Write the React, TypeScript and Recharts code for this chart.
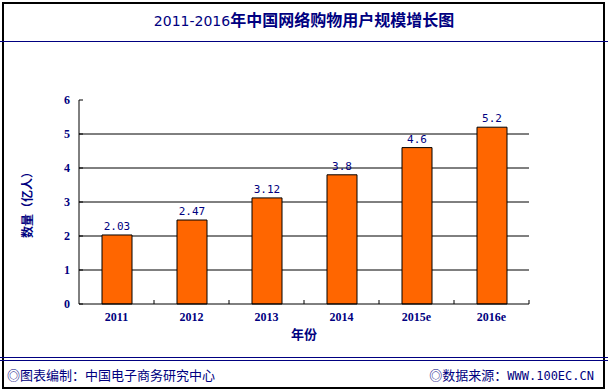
import { BarChart, Bar, XAxis, YAxis, CartesianGrid, LabelList } from 'recharts';

const years = ['2011', '2012', '2013', '2014', '2015e', '2016e'];
const users = [2.03, 2.47, 3.12, 3.8, 4.6, 5.2];
const yTicks = [0, 1, 2, 3, 4, 5, 6];
const gridValues = [1, 2, 3, 4, 5];

const data = years.map((year, i) => ({ year, users: users[i] }));

const NAVY = '#000080';
const SERIF = '"Liberation Serif", "Times New Roman", serif';
const CJK = '"Noto Sans CJK SC", "Noto Sans", sans-serif';

const X_MARGIN = 8;
const Y_MARGIN = 9;

function XTick(props: any) {
  const { x, y, payload, width, visibleTicksCount } = props;
  const half = payload.offset ?? width / visibleTicksCount / 2;
  const axisY = y - X_MARGIN;
  return (
    <g>
      <line x1={x + half} x2={x + half} y1={axisY - 4} y2={axisY} stroke="#000" />
      <text
        x={x}
        y={y}
        dy="0.71em"
        textAnchor="middle"
        fill={NAVY}
        fontFamily={SERIF}
        fontWeight="bold"
        fontSize={12}
      >
        {payload.value}
      </text>
    </g>
  );
}

function YTick(props: any) {
  const { x, y, payload } = props;
  const axisX = x + Y_MARGIN;
  return (
    <g>
      <line x1={axisX} x2={axisX + 4} y1={y} y2={y} stroke="#000" />
      <text
        x={x}
        y={y}
        dy="0.35em"
        textAnchor="end"
        fill={NAVY}
        fontFamily={SERIF}
        fontWeight="bold"
        fontSize={12}
      >
        {payload.value}
      </text>
    </g>
  );
}

export default function App() {
  return (
    <div style={{ position: 'absolute', left: 0, top: 0, width: 608, height: 392, background: '#fff' }}>
      <style>{'body{margin:0}'}</style>

      {/* frame and rules */}
      <div
        style={{
          position: 'absolute',
          left: 2,
          top: 2,
          width: 603,
          height: 387,
          border: '2px solid #000',
          boxSizing: 'border-box',
        }}
      />
      <div style={{ position: 'absolute', left: 0, top: 41, width: 608, height: 1, background: NAVY }} />
      <div style={{ position: 'absolute', left: 0, top: 357, width: 608, height: 1, background: NAVY }} />
      <div style={{ position: 'absolute', left: 0, top: 360, width: 608, height: 1, background: NAVY }} />

      {/* title */}
      <div
        style={{
          position: 'absolute',
          left: 0,
          top: 8,
          width: 608,
          textAlign: 'center',
          color: NAVY,
          fontFamily: CJK,
          fontSize: 16,
          lineHeight: '22px',
          whiteSpace: 'nowrap',
        }}
      >
        <span style={{ fontFamily: '"DejaVu Sans", sans-serif', fontSize: 14, fontWeight: 400 }}>2011-2016</span>
        <span style={{ fontWeight: 700 }}>年中国网络购物用户规模增长图</span>
      </div>

      <BarChart
        width={608}
        height={392}
        data={data}
        margin={{ top: 100, right: 79, bottom: 58, left: 39 }}
        style={{ position: 'absolute', left: 0, top: 0 }}
      >
        <CartesianGrid vertical={false} horizontalValues={gridValues} stroke="#000" strokeWidth={1} />
        <XAxis
          dataKey="year"
          height={30}
          axisLine={{ stroke: '#000' }}
          tickLine={false}
          tickSize={0}
          tickMargin={X_MARGIN}
          tick={<XTick />}
          interval={0}
        />
        <YAxis
          width={40}
          domain={[0, 6]}
          ticks={yTicks}
          interval={0}
          axisLine={{ stroke: '#000' }}
          tickLine={false}
          tickSize={0}
          tickMargin={Y_MARGIN}
          tick={<YTick />}
        />
        <Bar dataKey="users" fill="#FF6600" stroke="#000" strokeWidth={1} barSize={30} isAnimationActive={false}>
          <LabelList
            dataKey="users"
            position="top"
            offset={5}
            fill={NAVY}
            fontFamily='"DejaVu Sans Mono", monospace'
            fontSize={11}
          />
        </Bar>
      </BarChart>

      {/* axis titles */}
      <div
        style={{
          position: 'absolute',
          left: 254,
          top: 325,
          width: 100,
          textAlign: 'center',
          color: NAVY,
          fontFamily: CJK,
          fontWeight: 700,
          fontSize: 13,
          lineHeight: '18px',
        }}
      >
        年份
      </div>
      <div
        style={{
          position: 'absolute',
          left: 27 - 50,
          top: 202 - 9,
          width: 100,
          textAlign: 'center',
          color: NAVY,
          fontFamily: CJK,
          fontWeight: 700,
          fontSize: 12,
          lineHeight: '18px',
          transform: 'rotate(-90deg)',
          whiteSpace: 'nowrap',
        }}
      >
        数量（亿人）
      </div>

      {/* footer */}
      <div
        style={{
          position: 'absolute',
          left: 7,
          top: 366,
          color: NAVY,
          fontFamily: CJK,
          fontSize: 13,
          lineHeight: '18px',
          whiteSpace: 'nowrap',
        }}
      >
        ◎图表编制：中国电子商务研究中心
      </div>
      <div
        style={{
          position: 'absolute',
          right: 14,
          top: 366,
          color: NAVY,
          fontFamily: CJK,
          fontSize: 13,
          lineHeight: '18px',
          whiteSpace: 'nowrap',
        }}
      >
        ◎数据来源：
        <span style={{ fontFamily: '"DejaVu Sans Mono", monospace', fontSize: 12 }}>WWW.100EC.CN</span>
      </div>
    </div>
  );
}
